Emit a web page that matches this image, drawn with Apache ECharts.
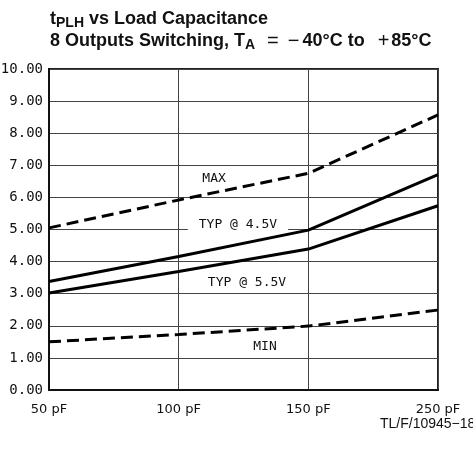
<!DOCTYPE html>
<html>
<head>
<meta charset="utf-8">
<script src="https://cdn.jsdelivr.net/npm/echarts@6/dist/echarts.min.js"></script>
<style>
  html, body { margin: 0; padding: 0; background: #fff; }
  #chart { width: 473px; height: 454px; }
</style>
</head>
<body>
<div id="chart"></div>
<script>
// Load capacitance categories (x positions are their indices)
const capLabels = ['50 pF', '100 pF', '150 pF', '250 pF'];
// Propagation delay t_PLH in ns at each load
const maxDelay = [5.05, 5.92, 6.75, 8.57];
const typ45Delay = [3.38, 4.16, 4.98, 6.71];
const typ55Delay = [3.02, 3.69, 4.39, 5.74];
const minDelay = [1.50, 1.73, 1.99, 2.49];
// Y axis tick range
const yMin = 0, yMax = 10, yStep = 1;

const toPairs = arr => arr.map((v, i) => [i, v]);

const monoFont = 'DejaVu Sans Mono';
const noteLabel = (text, extra) => Object.assign({
  show: true,
  position: 'inside',
  formatter: text,
  fontFamily: monoFont,
  fontSize: 13,
  color: '#111'
}, extra || {});

const note = (text, x, y, extra) => ({
  coord: [x, y],
  symbol: 'rect',
  symbolSize: 0,
  label: noteLabel(text, extra)
});

const boldTitle = { fontFamily: 'Liberation Sans', fontWeight: 'bold', fontSize: 18, lineHeight: 22, color: '#111' };
const mathSign = { fontFamily: 'Liberation Sans', fontWeight: 'normal', fontSize: 20, lineHeight: 22, color: '#111' };

const chart = echarts.init(document.getElementById('chart'), null, { renderer: 'canvas' });

chart.setOption({
  animation: false,
  backgroundColor: '#fff',
  title: {
    left: 45,
    top: 3,
    text: '{b|t}{s|PLH}{b| vs Load Capacitance}\n' +
          '{b|8 Outputs Switching, T}{s|A}{eq|=}{neg|\u2212}{b|40°C to}{pos|+}{b|85°C}',
    textStyle: {
      rich: {
        b: boldTitle,
        s: { fontFamily: 'Liberation Sans', fontWeight: 'bold', fontSize: 14, lineHeight: 10, verticalAlign: 'bottom', color: '#111' },
        eq: Object.assign({}, mathSign, { padding: [0, 9, 0, 12] }),
        neg: Object.assign({}, mathSign, { padding: [0, 3, 0, 0] }),
        pos: Object.assign({}, mathSign, { padding: [0, 2, 0, 13] })
      }
    }
  },
  graphic: [{
    type: 'text',
    left: 380,
    top: 417,
    style: { text: 'TL/F/10945\u221218', fontFamily: 'Liberation Sans', fontSize: 14, fill: '#111' }
  }],
  grid: {
    left: 49, right: 35, top: 69, bottom: 64,
    outerBoundsMode: 'none',
    containLabel: false,
    show: true, borderColor: '#222', borderWidth: 2
  },
  xAxis: {
    type: 'value',
    min: 0, max: capLabels.length - 1, interval: 1,
    axisLine: { show: true, onZero: false, lineStyle: { color: '#111', width: 2 } },
    axisTick: { show: false },
    splitLine: { show: true, lineStyle: { color: '#444', width: 1 } },
    axisLabel: {
      formatter: v => capLabels[v] || '',
      fontFamily: 'DejaVu Sans', fontSize: 13, color: '#111', margin: 13
    }
  },
  yAxis: {
    type: 'value',
    min: yMin, max: yMax, interval: yStep,
    axisLine: { show: true, lineStyle: { color: '#111', width: 2 } },
    axisTick: { show: false },
    splitLine: { show: true, lineStyle: { color: '#444', width: 1 } },
    axisLabel: {
      formatter: v => v.toFixed(2),
      fontFamily: monoFont, fontSize: 14, color: '#111', margin: 6
    }
  },
  series: [
    {
      name: 'MAX', type: 'line', data: toPairs(maxDelay), showSymbol: false,
      lineStyle: { color: '#000', width: 3, type: [12, 6] },
      markPoint: { data: [note('MAX', 1.273, 6.6)] }
    },
    {
      name: 'TYP @ 4.5V', type: 'line', data: toPairs(typ45Delay), showSymbol: false,
      lineStyle: { color: '#000', width: 3 },
      markPoint: { data: [note('TYP @ 4.5V', 1.457, 5.14, { backgroundColor: '#fff', padding: [0, 11] })] }
    },
    {
      name: 'TYP @ 5.5V', type: 'line', data: toPairs(typ55Delay), showSymbol: false,
      lineStyle: { color: '#000', width: 3 },
      markPoint: { data: [note('TYP @ 5.5V', 1.527, 3.33)] }
    },
    {
      name: 'MIN', type: 'line', data: toPairs(minDelay), showSymbol: false,
      lineStyle: { color: '#000', width: 3, type: [12, 6] },
      markPoint: { data: [note('MIN', 1.666, 1.34)] }
    }
  ]
});
</script>
</body>
</html>
